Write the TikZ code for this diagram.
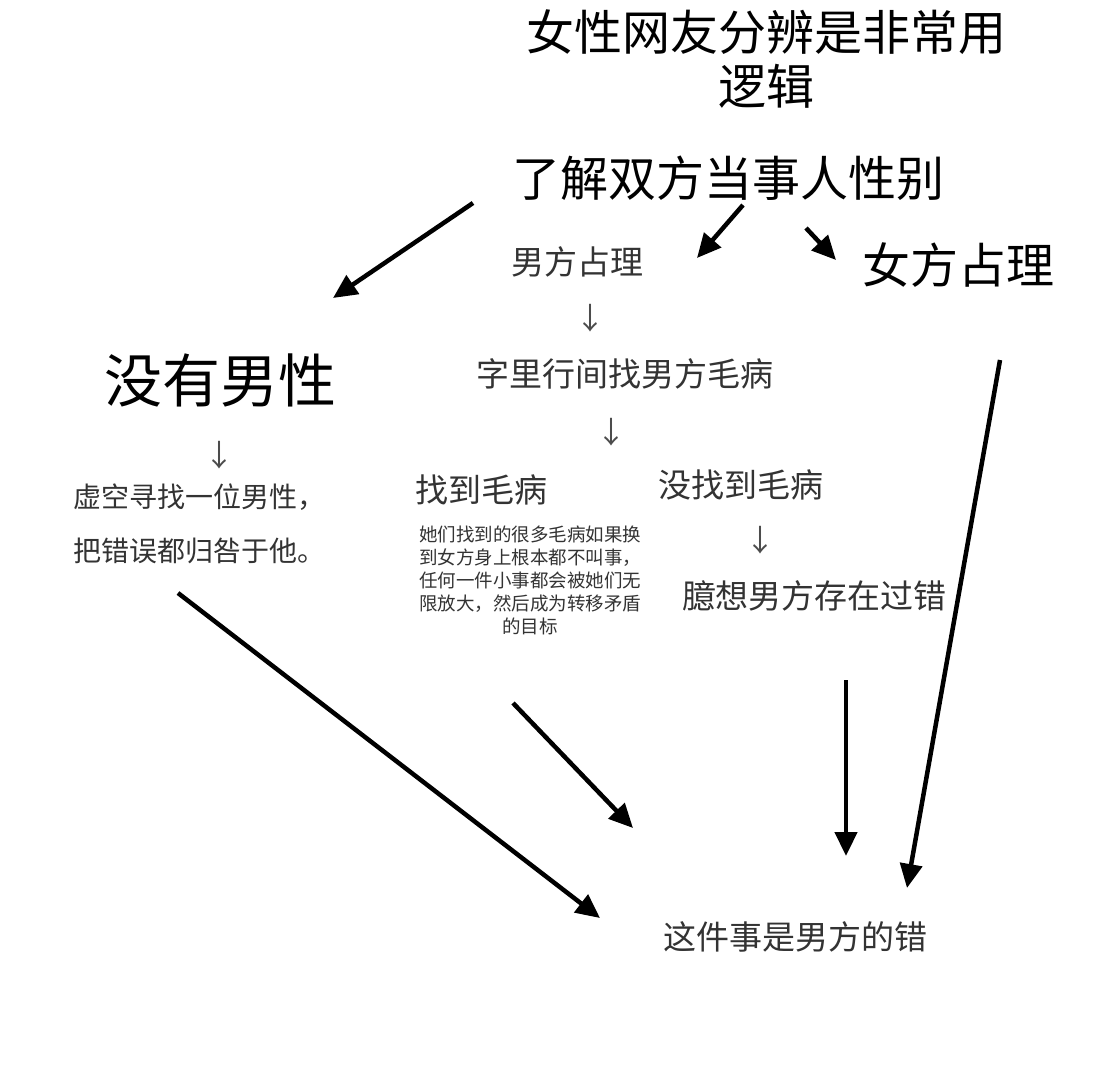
\documentclass[tikz,border=0pt]{standalone}
\usepackage{fontspec}
\setmainfont{Noto Sans CJK SC}
\usetikzlibrary{arrows.meta}
\begin{document}
\begin{tikzpicture}[x=1pt,y=-1pt,
  big/.style={font=\fontsize{48}{56}\selectfont, text=black, inner sep=0},
  mid/.style={font=\fontsize{33}{40}\selectfont, text=black!80, inner sep=0},
  sm/.style={font=\fontsize{28}{54}\selectfont, text=black!80, inner sep=0, align=left},
  tiny/.style={font=\fontsize{18.5}{23}\selectfont, text=black!80, inner sep=0, align=center},
  down/.style={font=\fontsize{30}{34}\selectfont, text=black!70, inner sep=0},
  arr/.style={line width=4.5pt, -{Triangle[length=24pt,width=22pt]}}]
\fill[white] (0,0) rectangle (1114,1080);
\node[big] (t1) at (766,32) {女性网友分辨是非常用};
\node[big] (t2) at (766,86) {逻辑};
\node[big] (q) at (728,178) {了解双方当事人性别};
\node[mid] (m) at (577,262) {男方占理};
\node[big] (f) at (958,265) {女方占理};
\node[font=\fontsize{58}{64}\selectfont, inner sep=0] (n) at (220,380) {没有男性};
\node[mid] (z) at (625,374) {字里行间找男方毛病};
\node[sm, anchor=west] (v) at (73,524) {虚空寻找一位男性，\\把错误都归咎于他。};
\node[mid] (y) at (481,490) {找到毛病};
\node[mid] (w) at (741,485) {没找到毛病};
\node[tiny] (s) at (530,580) {她们找到的很多毛病如果换\\到女方身上根本都不叫事，\\任何一件小事都会被她们无\\限放大，然后成为转移矛盾\\的目标};
\node[mid] (x) at (814,596) {臆想男方存在过错};
\node[mid] (r) at (795,937) {这件事是男方的错};
\node[down] (d1) at (590,318) {↓};
\node[down] (d2) at (611,432) {↓};
\node[down] (d3) at (219,455) {↓};
\node[down] (d4) at (760,540) {↓};
\coordinate (a1) at (473,203); \coordinate (b1) at (333,298);
\coordinate (a2) at (743,205); \coordinate (b2) at (697,258);
\coordinate (a3) at (806,228); \coordinate (b3) at (836,260);
\coordinate (a4) at (1000,360); \coordinate (b4) at (907,888);
\coordinate (a5) at (178,593); \coordinate (b5) at (600,918);
\coordinate (a6) at (513,703); \coordinate (b6) at (633,828);
\coordinate (a7) at (846,680); \coordinate (b7) at (846,856);
\draw[arr] (a1) -- (b1);
\draw[arr] (a2) -- (b2);
\draw[arr] (a3) -- (b3);
\draw[arr] (a4) -- (b4);
\draw[arr] (a5) -- (b5);
\draw[arr] (a6) -- (b6);
\draw[arr] (a7) -- (b7);
\end{tikzpicture}
\end{document}
